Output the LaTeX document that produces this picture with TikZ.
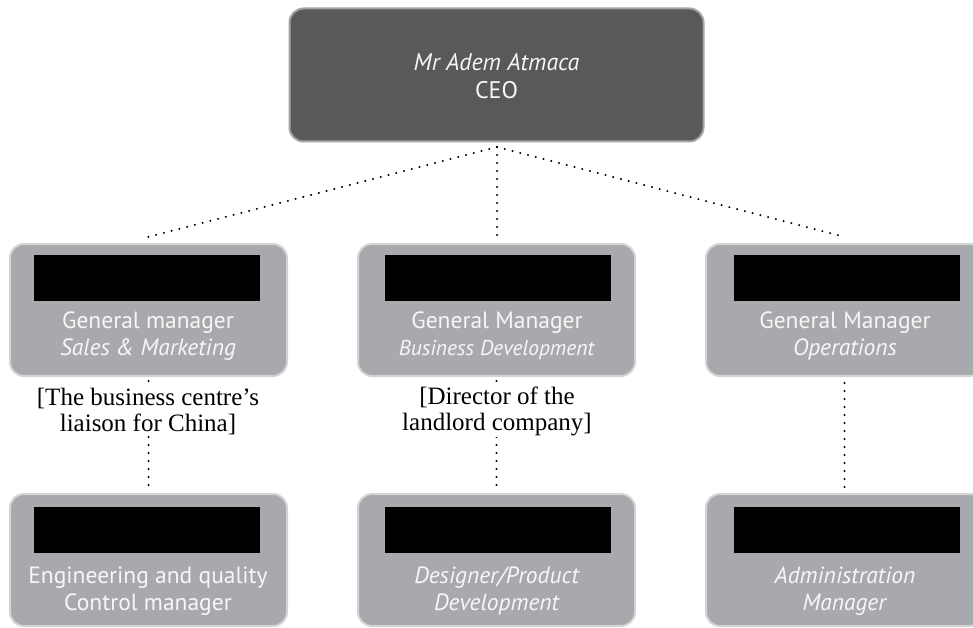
\documentclass[tikz,border=0pt]{standalone}
\usepackage{fontspec}
\setmainfont{Liberation Serif}
\newfontfamily\boxfont{PT Sans}
\definecolor{ceofill}{HTML}{58595B}
\definecolor{gfill}{HTML}{A7A9AC}
\definecolor{gedge}{HTML}{D3D4D6}
\definecolor{ceoedge}{HTML}{A3A4A6}
\definecolor{wtxt}{HTML}{F7F7F7}
\tikzset{
  gbox/.style={draw=gedge, line width=2pt, fill=gfill, rounded corners=14pt, minimum width=277pt, minimum height=132pt, inner sep=0pt},
  ceobox/.style={draw=ceoedge, line width=2pt, fill=ceofill, rounded corners=14pt, minimum width=414pt, minimum height=133pt, inner sep=0pt},
  redact/.style={fill=black, minimum width=226pt, minimum height=46pt, inner sep=0pt},
  wtext/.style={text=wtxt, align=center, font=\boxfont\fontsize{23.5}{27}\selectfont, inner sep=0pt},
  lbl/.style={fill=white, align=center, font=\fontsize{25}{26}\selectfont, inner sep=1pt},
  dotline/.style={line width=2.3pt, dash pattern=on 0pt off 8pt, line cap=round}
}
\begin{document}
\begin{tikzpicture}[x=1pt,y=-1pt]
\useasboundingbox (0,0) rectangle (973,628);
\clip (0,0) rectangle (973,628);
% CEO
\node[ceobox] (ceo) at (496.5,75) {};
\node[wtext, font=\boxfont\fontsize{24}{28}\selectfont] (ceot) at (496.5,76) {\textit{Mr Adem Atmaca}\\CEO};
\coordinate (hub) at (497,147);
\coordinate (a1) at (148,237);
\coordinate (a2) at (497,239);
\coordinate (a3) at (845,237);
\draw[dotline] (hub) -- (a1);
\draw[dotline] (hub) -- (a2);
\draw[dotline] (hub) -- (a3);
% level 2 boxes
\node[gbox] (g1) at (148.5,310) {};
\node[gbox] (g2) at (496.5,310) {};
\node[gbox] (g3) at (844.5,310) {};
% level 3 boxes
\node[gbox] (b1) at (148.5,560) {};
\node[gbox] (b2) at (496.5,560) {};
\node[gbox] (b3) at (844.5,560) {};
% vertical connectors
\draw[dotline] (g1.south) ++(0,4) coordinate (s1) -- (b1.north |- 0,490) coordinate (e1);
\draw[dotline] (g2.south) ++(0,4) coordinate (s2) -- (b2.north |- 0,492) coordinate (e2);
\draw[dotline] (g3.south) ++(0,6) coordinate (s3) -- (b3.north |- 0,490) coordinate (e3);
% labels
\node[lbl] (l1) at (148,411) {[The business centre’s\\liaison for China]};
\node[lbl] (l2) at (497,411) {[Director of the\\landlord company]};
% redactions
\node[redact] (r1) at (147,278) {};
\node[redact] (r2) at (498,278) {};
\node[redact] (r3) at (847,278) {};
\node[redact] (r4) at (147,530) {};
\node[redact] (r5) at (498,530) {};
\node[redact] (r6) at (847,530) {};
% texts
\node[wtext] (t1) at (148,336) {General manager\\\textit{Sales \& Marketing}};
\node[wtext] (t2) at (497,336) {General Manager\\{\fontsize{21.5}{27}\selectfont\textit{Business Development}}};
\node[wtext] (t3) at (845,336) {General Manager\\\textit{Operations}};
\node[wtext] (t4) at (148,591) {Engineering and quality\\Control manager};
\node[wtext] (t5) at (497,591) {\textit{Designer/Product}\\\textit{Development}};
\node[wtext] (t6) at (845,591) {\textit{Administration}\\\textit{Manager}};
\end{tikzpicture}
\end{document}
